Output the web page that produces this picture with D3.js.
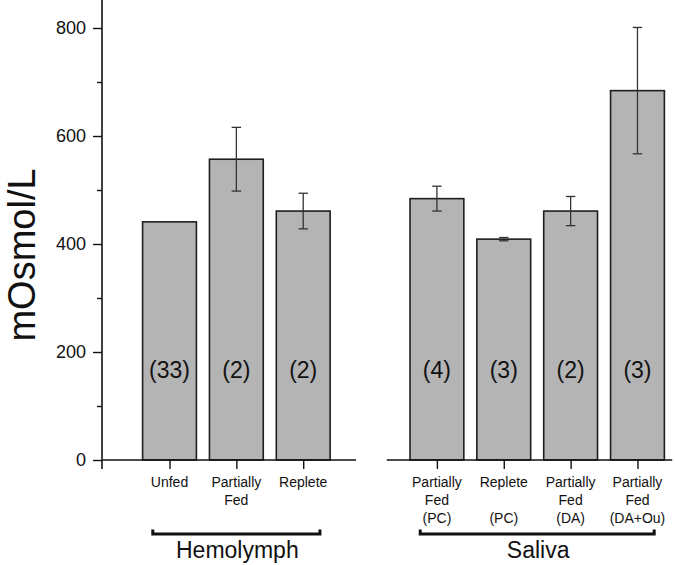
<!DOCTYPE html>
<html>
<head>
<meta charset="utf-8">
<script src="https://cdn.jsdelivr.net/npm/d3@7/dist/d3.min.js"></script>
<style>
  html, body { margin: 0; padding: 0; background: #fff; }
  svg { display: block; font-family: "Liberation Sans", Arial, sans-serif; }
</style>
</head>
<body>
<svg id="chart" width="675" height="565"></svg>
<script>
// ---- data ----
const hemoLabels = [["Unfed"], ["Partially", "Fed"], ["Replete"]];
const hemoValues = [441, 557, 461];
const hemoErrors = [0, 59, 33];
const hemoN = ["(33)", "(2)", "(2)"];

const salivaLabels = [["Partially", "Fed", "(PC)"], ["Replete", "", "(PC)"], ["Partially", "Fed", "(DA)"], ["Partially", "Fed", "(DA+Ou)"]];
const salivaValues = [484, 409, 461, 684];
const salivaErrors = [23, 3, 27, 117];
const salivaN = ["(4)", "(3)", "(2)", "(3)"];

const groupNames = ["Hemolymph", "Saliva"];
const yMajorTicks = [0, 200, 400, 600, 800];
const yMinorTicks = [100, 300, 500, 700];
const yTitle = "mOsmol/L";

// ---- build rows ----
const rows = [];
hemoValues.forEach((v, i) => rows.push({ pos: i, value: v, err: hemoErrors[i], n: hemoN[i], label: hemoLabels[i] }));
salivaValues.forEach((v, i) => rows.push({ pos: 4 + i, value: v, err: salivaErrors[i], n: salivaN[i], label: salivaLabels[i] }));
const groups = [
  { name: groupNames[0], from: 0, to: 2 },
  { name: groupNames[1], from: 4, to: 7 }
];

const svg = d3.select("#chart");
const x = d3.scaleLinear().domain([-1, 7.5]).range([102.65, 670.9]);
const y = d3.scaleLinear().domain([0, 850]).range([460, 1]);
const step = x(1) - x(0);
const barW = step * 0.805;
const axisX = 102;

// bars
svg.append("g").selectAll("rect").data(rows).join("rect")
  .attr("x", d => x(d.pos) - barW / 2)
  .attr("y", d => y(d.value))
  .attr("width", barW)
  .attr("height", d => y(0) - y(d.value))
  .attr("fill", "#b4b4b4")
  .attr("stroke", "#1e1e1e")
  .attr("stroke-width", 1.6);

// error bars
const eb = svg.append("g").attr("stroke", "#333").attr("stroke-width", 1.3);
rows.filter(d => d.err > 0).forEach(d => {
  const cx = x(d.pos);
  eb.append("line").attr("x1", cx).attr("x2", cx).attr("y1", y(d.value + d.err)).attr("y2", y(d.value - d.err));
  [d.value + d.err, d.value - d.err].forEach(v => {
    eb.append("line").attr("x1", cx - 4.7).attr("x2", cx + 4.7).attr("y1", y(v)).attr("y2", y(v));
  });
});

// n labels
svg.append("g").selectAll("text").data(rows).join("text")
  .attr("x", d => x(d.pos))
  .attr("y", 378)
  .attr("text-anchor", "middle")
  .attr("font-size", 23)
  .attr("fill", "#111")
  .text(d => d.n);

// y axis
const yAxis = svg.append("g").attr("transform", `translate(${axisX},0)`)
  .call(d3.axisLeft(y).tickValues(yMajorTicks).tickSize(9).tickSizeOuter(0).tickPadding(7).tickFormat(d3.format("d")));
yAxis.select(".domain").remove();
yAxis.selectAll(".tick line").attr("stroke", "#111").attr("stroke-width", 1.4);
yAxis.selectAll(".tick text").attr("font-size", 18).attr("fill", "#111").attr("font-family", "Liberation Sans, Arial, sans-serif");
const yMinor = svg.append("g").attr("transform", `translate(${axisX},0)`)
  .call(d3.axisLeft(y).tickValues(yMinorTicks).tickSize(5).tickSizeOuter(0).tickFormat(""));
yMinor.select(".domain").remove();
yMinor.selectAll(".tick line").attr("stroke", "#111").attr("stroke-width", 1.4);
svg.append("line").attr("x1", axisX).attr("x2", axisX).attr("y1", 0).attr("y2", y(0) + 9)
  .attr("stroke", "#111").attr("stroke-width", 1.6);

// x axis (broken)
const xSegs = [[-1, 2.79], [3.25, 7.52]];
svg.append("g").selectAll("line").data(xSegs).join("line")
  .attr("x1", d => x(d[0])).attr("x2", d => x(d[1]))
  .attr("y1", y(0)).attr("y2", y(0))
  .attr("stroke", "#111").attr("stroke-width", 1.6);
const xAxis = svg.append("g").attr("transform", `translate(0,${y(0)})`)
  .call(d3.axisBottom(x).tickValues(rows.map(d => d.pos)).tickSize(9).tickSizeOuter(0).tickFormat(""));
xAxis.select(".domain").remove();
xAxis.selectAll(".tick line").attr("stroke", "#111").attr("stroke-width", 1.4);

// category labels
const lab = svg.append("g").attr("font-size", 14).attr("fill", "#111").attr("text-anchor", "middle");
rows.forEach(d => {
  d.label.forEach((t, j) => {
    if (!t) return;
    lab.append("text").attr("x", x(d.pos)).attr("y", 487 + j * 17.8).text(t);
  });
});

// group brackets
const br = svg.append("g");
groups.forEach(g => {
  const x1 = x(g.from - 0.25), x2 = x(g.to + 0.25);
  br.append("path")
    .attr("d", `M${x1},529.5 V534 H${x2} V529.5`)
    .attr("fill", "none").attr("stroke", "#111").attr("stroke-width", 3);
  br.append("text").attr("x", x((g.from + g.to) / 2) + 1).attr("y", 558)
    .attr("text-anchor", "middle").attr("font-size", 23).attr("fill", "#111").text(g.name);
});

// y title
svg.append("text").attr("transform", "translate(34.5,255) rotate(-90)")
  .attr("text-anchor", "middle").attr("font-size", 38).attr("fill", "#111").text(yTitle);
</script>
</body>
</html>
